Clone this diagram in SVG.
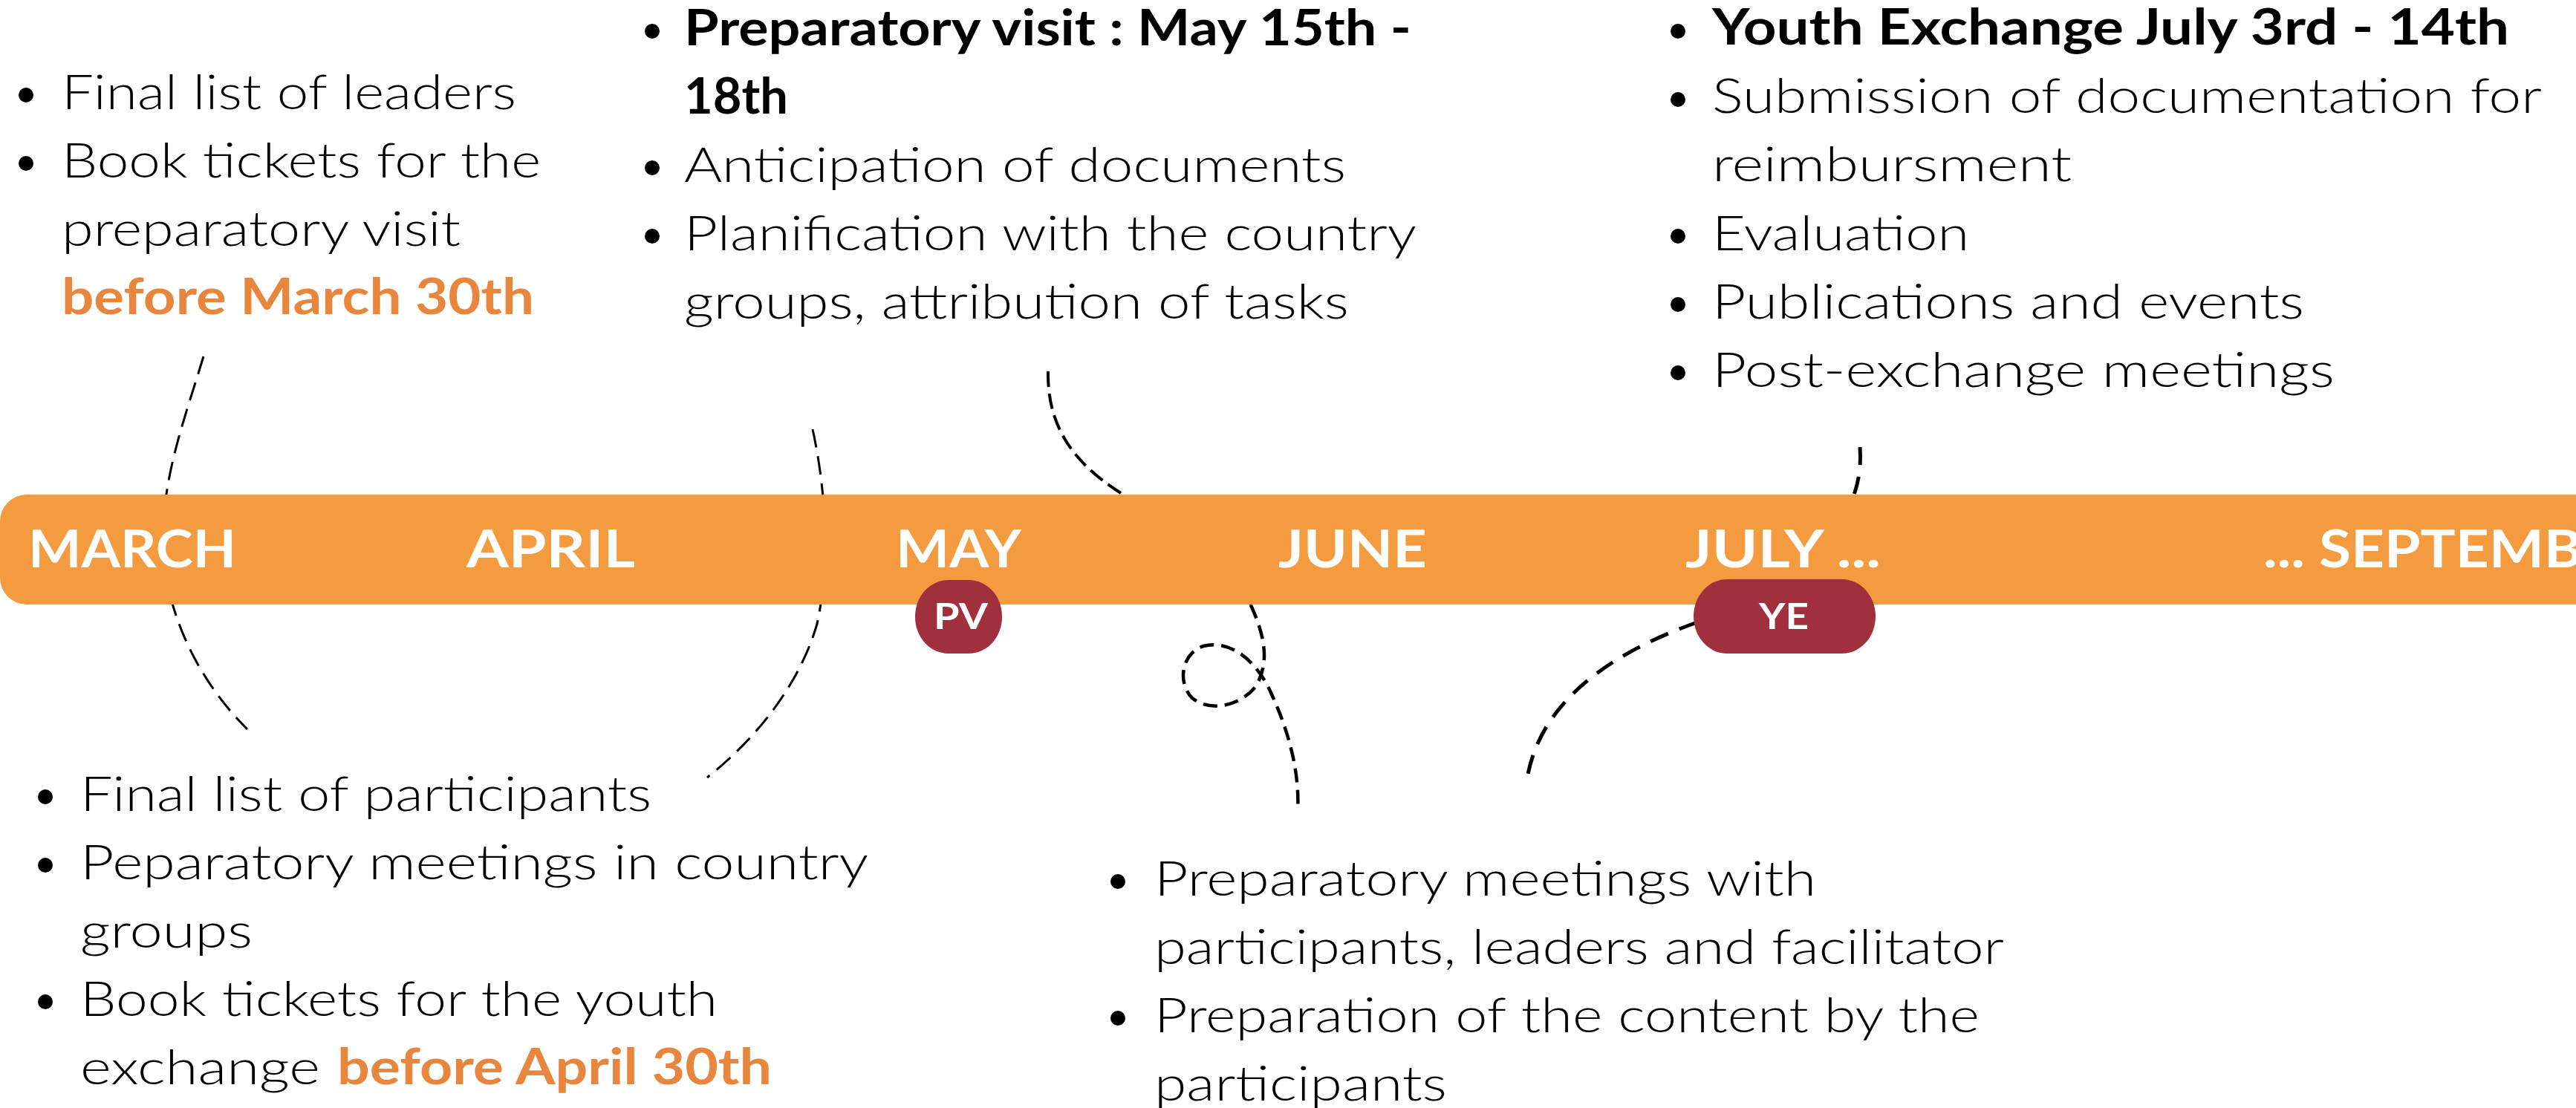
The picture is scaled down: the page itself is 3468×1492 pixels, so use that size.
<svg xmlns="http://www.w3.org/2000/svg" width="3468" height="1492" viewBox="0 0 3468 1492">
<style>
.t{font-family:Lato,"Open Sans","Liberation Sans",sans-serif;font-weight:300;font-size:66px;fill:#000}
.b{font-weight:700}
.o{font-family:Lato,"Open Sans","Liberation Sans",sans-serif;font-weight:700;font-size:66px;fill:#E8863D}
.m{font-family:Lato,"Open Sans","Liberation Sans",sans-serif;font-weight:700;font-size:70px;fill:#fff}
.p{font-family:Lato,"Open Sans","Liberation Sans",sans-serif;font-weight:700;font-size:47px;fill:#fff}
.d{fill:none;stroke:#000;stroke-linecap:butt}
.pill{fill:#A0303B}
</style>
<rect width="3468" height="1492" fill="#fff"/>
<g id="connectors">
<path class="d" stroke-width="3" stroke-dasharray="25 12" d="M274,480 C250,560 215,650 220,740 C224,830 270,920 333,982"/>
<path class="d" stroke-width="3" stroke-dasharray="25 12" d="M1094,578 C1112,660 1118,760 1100,840 C1080,910 1030,985 952,1047"/>
<path class="d" stroke-width="4" stroke-dasharray="21 9" d="M1411,500 C1410,570 1440,620 1509,664 C1600,734 1665,770 1684,815"/>
<path class="d" stroke-width="4.5" stroke-dasharray="19 10" d="M1684,815 C1700,850 1712,890 1690,925 C1670,950 1630,960 1605,940 C1585,920 1590,880 1620,870 C1660,860 1695,895 1712,935 C1735,985 1750,1040 1747,1092"/>
<path class="d" stroke-width="5" stroke-dasharray="24 16" d="M2504,602 C2506,630 2502,650 2494,672"/>
<path class="d" stroke-width="5" stroke-dasharray="26 16" d="M2285,838 C2180,875 2070,940 2055,1055"/>
</g>
<g id="timeline">
<rect x="0" y="666" width="3600" height="148" rx="36" ry="36" fill="#F49B3F"/>
<text class="m" x="38" y="764" textLength="280" lengthAdjust="spacingAndGlyphs">MARCH</text>
<text class="m" x="628" y="764" textLength="227" lengthAdjust="spacingAndGlyphs">APRIL</text>
<text class="m" x="1206" y="764" textLength="169" lengthAdjust="spacingAndGlyphs">MAY</text>
<text class="m" x="1721" y="764" textLength="200" lengthAdjust="spacingAndGlyphs">JUNE</text>
<text class="m" x="2269" y="764" textLength="263" lengthAdjust="spacingAndGlyphs">JULY ...</text>
<text class="m" x="3047" y="764" textLength="525" lengthAdjust="spacingAndGlyphs">... SEPTEMBER</text>
</g>
<g id="node-pv">
<rect class="pill" x="1232" y="781" width="117" height="99" rx="45" ry="49"/>
<text class="p" x="1257" y="847" textLength="73" lengthAdjust="spacingAndGlyphs">PV</text>
</g>
<g id="node-ye">
<rect class="pill" x="2280" y="780" width="245" height="100" rx="45" ry="50"/>
<text class="p" x="2368" y="847" textLength="67" lengthAdjust="spacingAndGlyphs">YE</text>
</g>
<g id="node-march-top">
<circle cx="35" cy="128" r="10"/>
<circle cx="35" cy="220" r="10"/>
<text class="t" x="83" y="147" textLength="612" lengthAdjust="spacingAndGlyphs">Final list of leaders</text>
<text class="t" x="83" y="239" textLength="645" lengthAdjust="spacingAndGlyphs">Book tickets for the</text>
<text class="t" x="83" y="331" textLength="537" lengthAdjust="spacingAndGlyphs">preparatory visit</text>
<text class="o" x="83" y="423" textLength="636" lengthAdjust="spacingAndGlyphs">before March 30th</text>
</g>
<g id="node-may-top">
<circle cx="878" cy="42" r="10"/>
<circle cx="878" cy="226" r="10"/>
<circle cx="878" cy="318" r="10"/>
<text class="t b" x="921" y="61" textLength="979" lengthAdjust="spacingAndGlyphs">Preparatory visit : May 15th -</text>
<text class="t b" x="921" y="153" textLength="140" lengthAdjust="spacingAndGlyphs">18th</text>
<text class="t" x="921" y="245" textLength="891" lengthAdjust="spacingAndGlyphs">Anticipation of documents</text>
<text class="t" x="921" y="337" textLength="986" lengthAdjust="spacingAndGlyphs">Planification with the country</text>
<text class="t" x="921" y="429" textLength="895" lengthAdjust="spacingAndGlyphs">groups, attribution of tasks</text>
</g>
<g id="node-july-top">
<circle cx="2259" cy="42" r="10"/>
<circle cx="2259" cy="134" r="10"/>
<circle cx="2259" cy="318" r="10"/>
<circle cx="2259" cy="410" r="10"/>
<circle cx="2259" cy="502" r="10"/>
<text class="t b" x="2305" y="60" textLength="1073" lengthAdjust="spacingAndGlyphs">Youth Exchange July 3rd - 14th</text>
<text class="t" x="2305" y="152" textLength="1117" lengthAdjust="spacingAndGlyphs">Submission of documentation for</text>
<text class="t" x="2305" y="244" textLength="484" lengthAdjust="spacingAndGlyphs">reimbursment</text>
<text class="t" x="2305" y="337" textLength="346" lengthAdjust="spacingAndGlyphs">Evaluation</text>
<text class="t" x="2305" y="429" textLength="797" lengthAdjust="spacingAndGlyphs">Publications and events</text>
<text class="t" x="2305" y="521" textLength="838" lengthAdjust="spacingAndGlyphs">Post-exchange meetings</text>
</g>
<g id="node-april-bottom">
<circle cx="61" cy="1073" r="10"/>
<circle cx="61" cy="1165" r="10"/>
<circle cx="61" cy="1349" r="10"/>
<text class="t" x="108" y="1092" textLength="769" lengthAdjust="spacingAndGlyphs">Final list of participants</text>
<text class="t" x="108" y="1184" textLength="1061" lengthAdjust="spacingAndGlyphs">Peparatory meetings in country</text>
<text class="t" x="108" y="1276" textLength="232" lengthAdjust="spacingAndGlyphs">groups</text>
<text class="t" x="108" y="1368" textLength="858" lengthAdjust="spacingAndGlyphs">Book tickets for the youth</text>
<text class="t" x="108" y="1460" textLength="323" lengthAdjust="spacingAndGlyphs">exchange</text>
<text class="o" x="454" y="1460" textLength="585" lengthAdjust="spacingAndGlyphs">before April 30th</text>
</g>
<g id="node-june-bottom">
<circle cx="1505" cy="1187" r="10"/>
<circle cx="1505" cy="1371" r="10"/>
<text class="t" x="1554" y="1206" textLength="891" lengthAdjust="spacingAndGlyphs">Preparatory meetings with</text>
<text class="t" x="1554" y="1298" textLength="1144" lengthAdjust="spacingAndGlyphs">participants, leaders and facilitator</text>
<text class="t" x="1554" y="1390" textLength="1111" lengthAdjust="spacingAndGlyphs">Preparation of the content by the</text>
<text class="t" x="1554" y="1482" textLength="394" lengthAdjust="spacingAndGlyphs">participants</text>
</g>
</svg>
